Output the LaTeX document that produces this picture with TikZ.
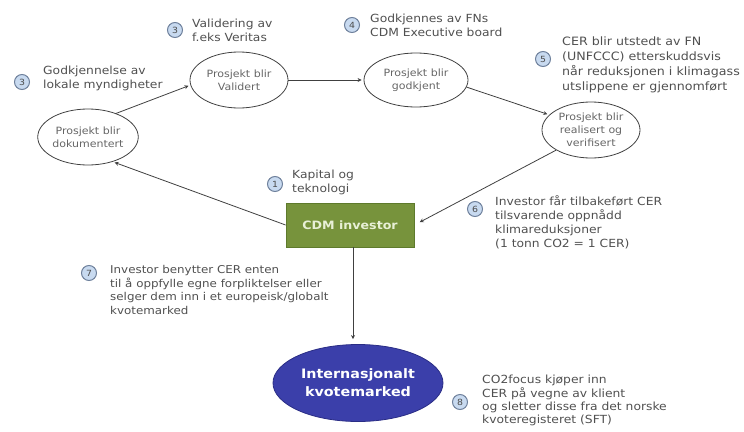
\documentclass[tikz,border=0pt]{standalone}
\usepackage{fontspec}
\setmainfont[FakeStretch=1.1]{DejaVu Sans}
\usetikzlibrary{shapes.geometric,arrows.meta}
\definecolor{txtgrey}{HTML}{505050}
\definecolor{elltxt}{HTML}{666666}
\definecolor{cdmgreen}{HTML}{77933C}
\definecolor{cdmborder}{HTML}{5E7A2C}
\definecolor{cdmtext}{HTML}{E8F0D6}
\definecolor{intblue}{HTML}{3B3FAA}
\definecolor{intborder}{HTML}{2A2D85}
\definecolor{badgefill}{HTML}{C8DAF0}
\definecolor{badgeline}{HTML}{6F819C}
\definecolor{linegrey}{HTML}{404040}
\tikzset{
  proj/.style={ellipse, draw=linegrey, line width=0.8pt, minimum width=98pt, minimum height=56pt, inner sep=0pt, align=center, text=elltxt, font=\fontsize{10}{13}\selectfont},
  badge/.style={circle, draw=badgeline, fill=badgefill, line width=1pt, minimum size=15pt, inner sep=0pt, font=\fontsize{8.5}{8.5}\selectfont, text=black!70},
  lbl/.style={anchor=north west, inner sep=0pt, align=left, text=txtgrey, font=\fontsize{11.2}{14}\selectfont},
  conn/.style={draw=linegrey, line width=0.8pt, -{Stealth[length=4pt,width=4pt]}, shorten >=2pt}
}
\begin{document}
\begin{tikzpicture}[x=1pt,y=-1pt]
\useasboundingbox (0,0) rectangle (744,431);
% process ellipses
\node[proj] (dok) at (88,137) {Prosjekt blir\\dokumentert};
\node[proj] (val) at (239,80) {Prosjekt blir\\Validert};
\node[proj, minimum width=104pt, minimum height=54pt] (god) at (416,80) {Prosjekt blir\\godkjent};
\node[proj] (real) at (591,130) {Prosjekt blir\\realisert og\\verifisert};
% investor and market
\node[draw=cdmborder, fill=cdmgreen, line width=0.8pt, minimum width=128pt, minimum height=44pt, inner sep=0pt, text=cdmtext, font=\fontsize{11.5}{13}\selectfont\bfseries] (cdm) at (350,225) {CDM investor};
\node[ellipse, draw=intborder, fill=intblue, line width=0.8pt, minimum width=170pt, minimum height=77pt, inner sep=0pt, align=center, text=white, font=\fontsize{13}{18}\selectfont\bfseries] (int) at (358,383) {Internasjonalt\\kvotemarked};
% connectors
\draw[conn] (dok.40) -- (val.186);
\draw[conn] (val.east) -- (god.west);
\draw[conn] (god.-8) -- (real.160);
\draw[conn, shorten >=6pt] (real.210) -- (cdm.east);
\draw[conn] (cdm.west) -- (dok.-45);
\coordinate (drop) at (353,0);
\draw[conn, shorten >=5pt] (drop |- cdm.south) -- (drop |- int.north);
% badges
\node[badge] (b2) at (22,82) {3};
\node[badge] (b3) at (175,30) {3};
\node[badge] (b4) at (352,25) {4};
\node[badge] (b5) at (543,59) {5};
\node[badge] (b1) at (275,184) {1};
\node[badge] (b6) at (475,209) {6};
\node[badge] (b7) at (89,273) {7};
\node[badge] (b8) at (460,402) {8};
% labels
\node[lbl] (t2) at (43,66) {Godkjennelse av\\lokale myndigheter};
\node[lbl] (t3) at (192,19) {Validering av\\f.eks Veritas};
\node[lbl] (t4) at (370,14) {Godkjennes av FNs\\CDM Executive board};
\node[lbl, font=\fontsize{11.5}{15}\selectfont] (t5) at (562,37) {CER blir utstedt av FN\\(UNFCCC) etterskuddsvis\\når reduksjonen i klimagass\\utslippene er gjennomført};
\node[lbl] (t1) at (292,170) {Kapital og\\teknologi};
\node[lbl, font=\fontsize{11.2}{14.3}\selectfont] (t6) at (495,195) {Investor får tilbakeført CER\\tilsvarende oppnådd\\klimareduksjoner\\(1 tonn CO2 = 1 CER)};
\node[lbl, font=\fontsize{10.8}{13.7}\selectfont] (t7) at (110,265) {Investor benytter CER enten\\til å oppfylle egne forpliktelser eller\\selger dem inn i et europeisk/globalt\\kvotemarked};
\node[lbl, font=\fontsize{11.2}{13.3}\selectfont] (t8) at (482,375) {CO2focus kjøper inn\\CER på vegne av klient\\og sletter disse fra det norske\\kvoteregisteret (SFT)};
\end{tikzpicture}
\end{document}
